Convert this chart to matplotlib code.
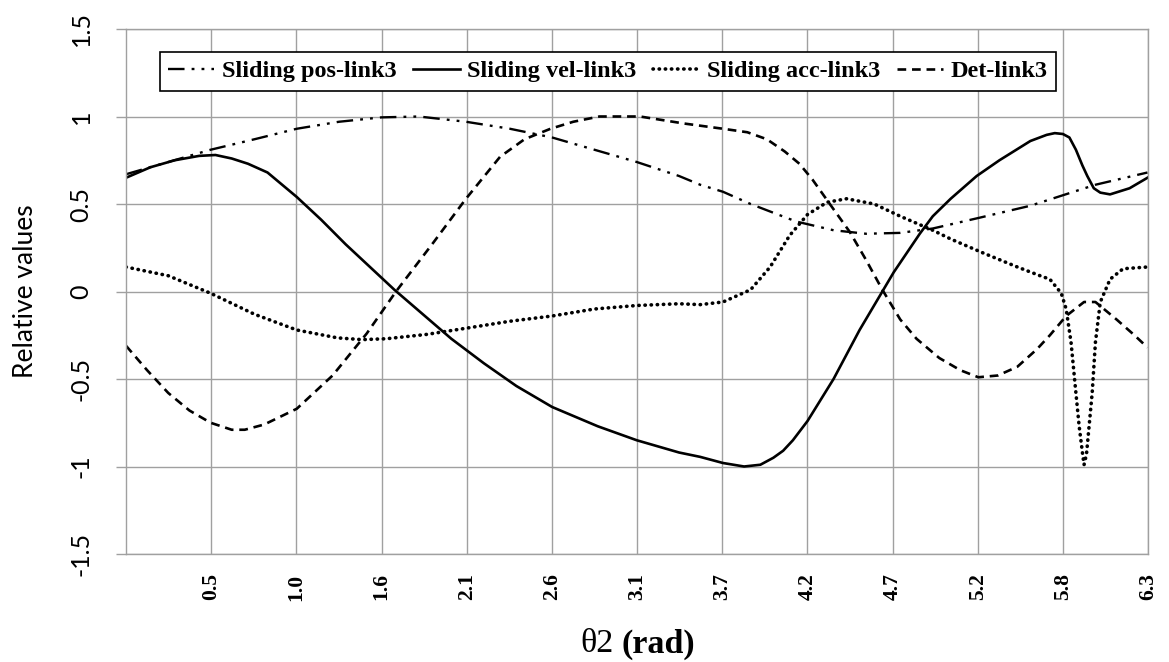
import numpy as np
import matplotlib
matplotlib.use("Agg")
import matplotlib.pyplot as plt

# ---- data (theta2 in rad, relative values) ----
pos_x = [0.00, 0.26, 0.52, 0.79, 1.05, 1.31, 1.57, 1.80, 2.09, 2.36, 2.62, 2.88, 3.14,
         3.40, 3.53, 3.67, 3.84, 4.12, 4.35, 4.55, 4.76, 4.96, 5.24, 5.56, 5.76, 5.96, 6.28]
pos_y = [0.67, 0.74, 0.81, 0.87, 0.93, 0.97, 0.995, 1.00, 0.97, 0.93, 0.88, 0.81, 0.74,
         0.66, 0.61, 0.57, 0.50, 0.40, 0.35, 0.33, 0.335, 0.36, 0.42, 0.49, 0.55, 0.61, 0.68]

vel_x = [0.00, 0.15, 0.30, 0.45, 0.55, 0.65, 0.75, 0.87, 1.05, 1.20, 1.35, 1.50, 1.65, 1.80,
         2.00, 2.20, 2.40, 2.62, 2.90, 3.14, 3.40, 3.53, 3.67, 3.80, 3.90, 3.98, 4.04,
         4.10, 4.19, 4.27, 4.35, 4.43, 4.51, 4.58, 4.65, 4.72, 4.80, 4.88, 4.96, 5.07,
         5.23, 5.37, 5.56, 5.66, 5.71, 5.76, 5.80, 5.84, 5.88, 5.91, 5.95, 5.99, 6.05, 6.17, 6.28]
vel_y = [0.65, 0.71, 0.75, 0.775, 0.78, 0.76, 0.73, 0.68, 0.54, 0.41, 0.27, 0.14, 0.01, -0.11,
         -0.27, -0.41, -0.54, -0.66, -0.77, -0.85, -0.92, -0.945, -0.98, -1.00, -0.99, -0.95, -0.91,
         -0.85, -0.74, -0.62, -0.50, -0.36, -0.22, -0.11, 0.00, 0.11, 0.22, 0.33, 0.43, 0.53,
         0.66, 0.75, 0.86, 0.895, 0.905, 0.90, 0.88, 0.81, 0.72, 0.66, 0.59, 0.565, 0.555, 0.59, 0.65]

acc_x = [0.00, 0.26, 0.52, 0.79, 1.05, 1.30, 1.45, 1.60, 1.85, 2.09, 2.36, 2.62, 2.88,
         3.14, 3.40, 3.53, 3.67, 3.84, 3.96, 4.08, 4.19, 4.31, 4.43, 4.60, 4.76, 4.96,
         5.07, 5.27, 5.48, 5.62, 5.68, 5.75, 5.78, 5.81, 5.84, 5.86, 5.88, 5.89, 5.905,
         5.92, 5.94, 5.96, 5.99, 6.05, 6.13, 6.28]
acc_y = [0.14, 0.09, -0.01, -0.13, -0.22, -0.265, -0.275, -0.27, -0.245, -0.21, -0.17, -0.14, -0.10,
         -0.08, -0.07, -0.075, -0.06, 0.01, 0.14, 0.32, 0.44, 0.51, 0.53, 0.50, 0.43, 0.35,
         0.30, 0.22, 0.14, 0.09, 0.07, -0.01, -0.10, -0.29, -0.58, -0.77, -0.92, -0.99, -0.93,
         -0.78, -0.58, -0.29, -0.06, 0.07, 0.13, 0.14]

det_x = [0.00, 0.13, 0.26, 0.39, 0.52, 0.65, 0.73, 0.85, 1.05, 1.27, 1.48, 1.66, 1.89,
         2.09, 2.30, 2.45, 2.61, 2.75, 2.91, 3.16, 3.43, 3.67, 3.82, 3.94, 4.05, 4.14,
         4.22, 4.35, 4.45, 4.55, 4.65, 4.76, 4.86, 5.00, 5.13, 5.24, 5.36, 5.48, 5.60,
         5.68, 5.78, 5.89, 5.96, 6.09, 6.20, 6.28]
det_y = [-0.31, -0.45, -0.58, -0.68, -0.75, -0.79, -0.79, -0.76, -0.67, -0.48, -0.24, 0.00, 0.28,
         0.53, 0.77, 0.87, 0.93, 0.97, 1.00, 1.00, 0.96, 0.93, 0.91, 0.87, 0.80, 0.73,
         0.64, 0.47, 0.34, 0.18, 0.01, -0.16, -0.27, -0.38, -0.45, -0.49, -0.48, -0.43, -0.33,
         -0.25, -0.14, -0.06, -0.06, -0.16, -0.25, -0.32]

tick_pos = [k * np.pi / 6 for k in range(1, 13)]
tick_labels = ["0.5", "1.0", "1.6", "2.1", "2.6", "3.1", "3.7", "4.2", "4.7", "5.2", "5.8", "6.3"]
y_ticks = [-1.5, -1, -0.5, 0, 0.5, 1, 1.5]
y_labels = ["-1.5", "-1", "-0.5", "0", "0.5", "1", "1.5"]

labels = ["Sliding pos-link3", "Sliding vel-link3", "Sliding acc-link3", "Det-link3"]

# ---- figure ----
fig = plt.figure(figsize=(11.69, 6.62), dpi=100)
ax = fig.add_axes([126 / 1169, 108 / 662, 1022 / 1169, 525 / 662])

ax.plot(pos_x, pos_y, color="black", lw=1.7, linestyle=(0, (7, 3, 1.2, 3, 1.2, 3)), label=labels[0])
ax.plot(vel_x, vel_y, color="black", lw=1.9, linestyle="-", label=labels[1])
ax.plot(acc_x, acc_y, color="black", lw=2.6, linestyle=(0, (0.1, 1.6)),
        dash_capstyle="round", label=labels[2])
ax.plot(det_x, det_y, color="black", lw=1.9, linestyle=(0, (3.3, 2.2)), label=labels[3])

ax.set_xlim(0, 2 * np.pi)
ax.set_ylim(-1.5, 1.5)
ax.set_xticks(tick_pos)
ax.set_xticklabels(tick_labels, rotation=90, fontfamily="Liberation Serif",
                   fontweight="bold", fontsize=15.5)
ax.set_yticks(y_ticks)
ax.set_yticklabels(y_labels, rotation=90, va="center", fontfamily="Lato", fontsize=18)
ax.tick_params(axis="x", length=0, pad=14)
ax.tick_params(axis="y", length=7, width=1, color="#a0a0a0", pad=17)
ax.grid(True, color="#a0a0a0", lw=1.0)
ax.set_axisbelow(True)
for s in ax.spines.values():
    s.set_color("#a0a0a0")
    s.set_linewidth(1.0)

ax.set_ylabel("Relative values", fontfamily="Lato", fontsize=19, labelpad=23)

fig.text(0.5245, 0.0145, "θ2", ha="right", va="baseline", fontfamily="Liberation Serif",
         fontsize=24.5)
fig.text(0.5315, 0.0145, "(rad)", ha="left", va="baseline", fontfamily="Liberation Serif",
         fontweight="bold", fontsize=24.5)

leg = ax.legend(loc="upper left", bbox_to_anchor=(0.033, 0.957), ncol=4, frameon=True,
                fancybox=False, edgecolor="black", borderaxespad=0, handlelength=1.9,
                handletextpad=0.3, columnspacing=0.7, borderpad=0.35,
                prop={"family": "Liberation Serif", "weight": "bold", "size": 17.5})
leg.get_frame().set_linewidth(1.2)
leg.get_frame().set_alpha(1)

fig.savefig("out.png", dpi=100)
